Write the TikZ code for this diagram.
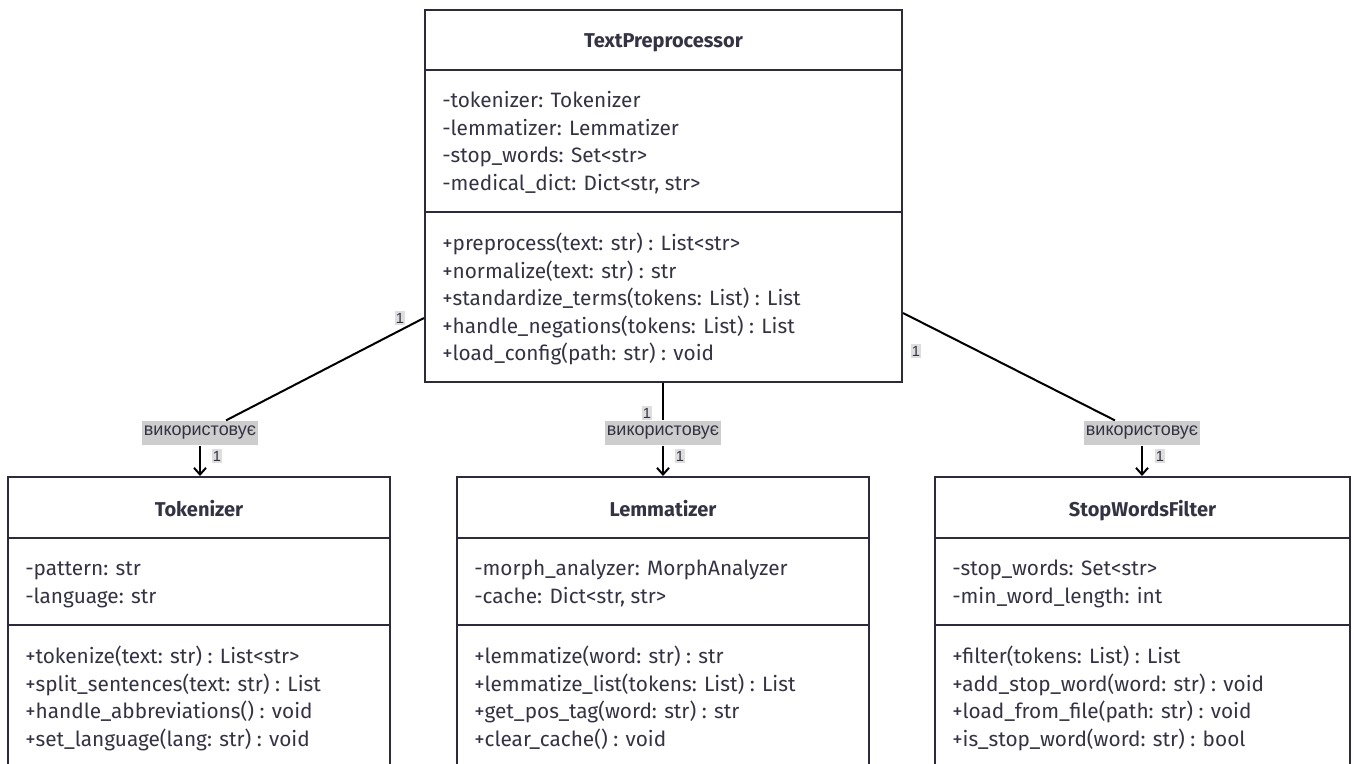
\documentclass[tikz,border=0pt]{standalone}
\usepackage{fontspec}
\setmainfont{Fira Sans}
\newfontfamily\lblfont{Liberation Sans}
\usetikzlibrary{arrows.meta,calc}
\definecolor{ink}{HTML}{333344}
\definecolor{frame}{HTML}{2B2B3B}
\definecolor{tagbg}{HTML}{CDCDCD}
\definecolor{numbg}{HTML}{DEDEDE}

\begin{document}
\begin{tikzpicture}[x=0.75pt,y=-0.75pt,
  classbox/.style={draw=frame, line width=1.5pt, fill=white, inner sep=0pt},
  divider/.style={draw=frame, line width=1.5pt},
  title/.style={anchor=mid, font=\fontsize{15}{17}\selectfont\bfseries, text=ink, inner sep=0pt},
  member/.style={anchor=mid west, font=\fontsize{15.6}{18}\selectfont, text=ink, inner sep=0pt},
  tag/.style={fill=tagbg, font=\lblfont\fontsize{13.5}{15}\selectfont, text=ink,
              inner xsep=1.5pt, minimum height=18.5pt},
  mult/.style={fill=numbg, font=\lblfont\fontsize{11}{12}\selectfont, text=ink,
               inner xsep=1pt, inner ysep=1.5pt},
  link/.style={line width=1.5pt, black},
  arr/.style={link, -{Straight Barb[length=5pt,width=9pt]}}
]
\useasboundingbox (0,0) rectangle (1357,764);
\clip (0,0) rectangle (1357,764);

% ---------- TextPreprocessor ----------
\node[classbox, minimum width=357.75pt, minimum height=279pt] (tp) at (663.5,196) {};
\node[title] (tpT) at (663.5,44) {TextPreprocessor};
\draw[divider] (tp.west |- 0,70) -- (tp.east |- 0,70);
\draw[divider] (tp.west |- 0,212) -- (tp.east |- 0,212);
\foreach \t [count=\i] in {{-tokenizer: Tokenizer},{-lemmatizer: Lemmatizer},
    {-stop\_words: Set<str>},{-medical\_dict: Dict<str, str>}}
  \node[member] (tpa\i) at (442,{104+(\i-1)*27.7}) {\t};
\foreach \t [count=\i] in {{+preprocess(text: str) : List<str>},{+normalize(text: str) : str},
    {+standardize\_terms(tokens: List) : List},{+handle\_negations(tokens: List) : List},
    {+load\_config(path: str) : void}}
  \node[member] (tpm\i) at (442,{247+(\i-1)*27.5}) {\t};

% ---------- Tokenizer ----------
\node[classbox, minimum width=286.5pt, minimum height=227.25pt] (tok) at (199,628.5) {};
\node[title] (tokT) at (199,513) {Tokenizer};
\draw[divider] (tok.west |- 0,538) -- (tok.east |- 0,538);
\draw[divider] (tok.west |- 0,625) -- (tok.east |- 0,625);
\foreach \t [count=\i] in {{-pattern: str},{-language: str}}
  \node[member] (toka\i) at (25,{572+(\i-1)*28}) {\t};
\foreach \t [count=\i] in {{+tokenize(text: str) : List<str>},{+split\_sentences(text: str) : List},
    {+handle\_abbreviations() : void},{+set\_language(lang: str) : void}}
  \node[member] (tokm\i) at (25,{660+(\i-1)*27.7}) {\t};

% ---------- Lemmatizer ----------
\node[classbox, minimum width=309pt, minimum height=227.25pt] (lem) at (663,628.5) {};
\node[title] (lemT) at (663,513) {Lemmatizer};
\draw[divider] (lem.west |- 0,538) -- (lem.east |- 0,538);
\draw[divider] (lem.west |- 0,625) -- (lem.east |- 0,625);
\foreach \t [count=\i] in {{-morph\_analyzer: MorphAnalyzer},{-cache: Dict<str, str>}}
  \node[member] (lema\i) at (474,{572+(\i-1)*28}) {\t};
\foreach \t [count=\i] in {{+lemmatize(word: str) : str},{+lemmatize\_list(tokens: List) : List},
    {+get\_pos\_tag(word: str) : str},{+clear\_cache() : void}}
  \node[member] (lemm\i) at (474,{660+(\i-1)*27.7}) {\t};

% ---------- StopWordsFilter ----------
\node[classbox, minimum width=311.25pt, minimum height=227.25pt] (swf) at (1142.5,628.5) {};
\node[title] (swfT) at (1142.5,513) {StopWordsFilter};
\draw[divider] (swf.west |- 0,538) -- (swf.east |- 0,538);
\draw[divider] (swf.west |- 0,625) -- (swf.east |- 0,625);
\foreach \t [count=\i] in {{-stop\_words: Set<str>},{-min\_word\_length: int}}
  \node[member] (swfa\i) at (952,{572+(\i-1)*28}) {\t};
\foreach \t [count=\i] in {{+filter(tokens: List) : List},{+add\_stop\_word(word: str) : void},
    {+load\_from\_file(path: str) : void},{+is\_stop\_word(word: str) : bool}}
  \node[member] (swfm\i) at (952,{660+(\i-1)*27.7}) {\t};

% ---------- associations ----------
\node[tag] (tag1) at (200,433) {використовує};
\node[tag] (tag2) at (663,433) {використовує};
\node[tag] (tag3) at (1142,433) {використовує};

\draw[link] (tp.west |- 0,318) -- ($(tag1.north)+(26,0)$);
\draw[arr] (tag1.south) -- (tag1.south |- tok.north);
\draw[link] (tp.south -| 663,0) -- (tag2.north);
\draw[arr] (tag2.south) -- (tag2.south |- lem.north);
\draw[link] (tp.east |- 0,313) -- ($(tag3.north)+(-27,0)$);
\draw[arr] (tag3.south) -- (tag3.south |- swf.north);

\node[tag] at (tag1) {використовує};
\node[tag] at (tag2) {використовує};
\node[tag] at (tag3) {використовує};

\node[mult] (m1a) at (400,318) {1};
\node[mult] (m1b) at (217,456) {1};
\node[mult] (m2a) at (647,413) {1};
\node[mult] (m2b) at (680,456) {1};
\node[mult] (m3a) at (916,351) {1};
\node[mult] (m3b) at (1160,456) {1};
\end{tikzpicture}
\end{document}
